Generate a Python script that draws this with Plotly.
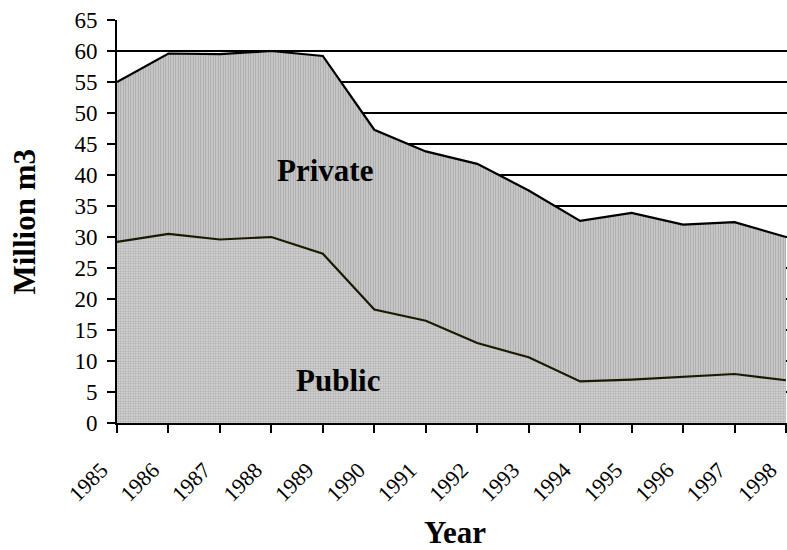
import plotly.graph_objects as go

# Annual volumes, million m3
years = list(range(1985, 1999))
public = [29.2, 30.5, 29.6, 30.0, 27.3, 18.3, 16.5, 12.9, 10.6, 6.7, 7.0, 7.4, 7.9, 6.9]
private = [25.8, 29.1, 29.9, 30.0, 31.9, 29.0, 27.3, 28.9, 26.9, 25.9, 26.9, 24.6, 24.5, 23.1]
y_ticks = list(range(0, 70, 5))

FONT = "Liberation Serif"
PAD = "\u00a0" * 4  # pushes the slanted year labels away from the tick marks

fig = go.Figure()

fig.add_trace(go.Scatter(
    x=years, y=public, name="Public", stackgroup="vol",
    mode="lines", line=dict(color="#1a1a00", width=2.2),
    fillcolor="#c4c4c4",
    fillpattern=dict(shape=".", size=2.5, solidity=0.4,
                     fgcolor="#a4a4a4", bgcolor="#d4d4d4", fillmode="replace"),
))
fig.add_trace(go.Scatter(
    x=years, y=private, name="Private", stackgroup="vol",
    mode="lines", line=dict(color="black", width=2.2),
    fillcolor="#bdbdbd",
    fillpattern=dict(shape="|", size=2.5, solidity=0.45,
                     fgcolor="#a6a6a6", bgcolor="#d0d0d0", fillmode="replace"),
))

fig.add_annotation(x=1989.05, y=40.7, text="<b>Private</b>", showarrow=False,
                   font=dict(family=FONT, size=31, color="black"))
fig.add_annotation(x=1989.3, y=6.9, text="<b>Public</b>", showarrow=False,
                   font=dict(family=FONT, size=31, color="black"))

# axis titles
fig.add_annotation(xref="paper", yref="paper", x=-0.1388, y=0.5,
                   xanchor="center", yanchor="middle", textangle=-90,
                   text="<b>Million m3</b>", showarrow=False,
                   font=dict(family=FONT, size=31, color="black"))
fig.add_annotation(xref="paper", yref="paper", x=0.505, y=-0.271,
                   xanchor="center", yanchor="middle",
                   text="<b>Year</b>", showarrow=False,
                   font=dict(family=FONT, size=31, color="black"))

fig.update_layout(
    width=787, height=550,
    margin=dict(l=117, r=0, t=20, b=127),
    paper_bgcolor="white", plot_bgcolor="white",
    showlegend=False,
    font=dict(family=FONT, color="black"),
)
fig.update_xaxes(
    range=[1985, 1998.02], tickvals=years, ticktext=[str(y) + PAD for y in years],
    tickangle=-45, tickfont=dict(size=22),
    ticklabeloverflow="allow", automargin=False,
    showline=True, linecolor="black", linewidth=2,
    ticks="outside", ticklen=8, tickwidth=2, tickcolor="black",
    showgrid=False, zeroline=False,
)
fig.update_yaxes(
    range=[0, 65], tickvals=y_ticks, tickfont=dict(size=23), ticklabelstandoff=5,
    automargin=False,
    showline=True, linecolor="black", linewidth=2,
    ticks="outside", ticklen=8, tickwidth=2, tickcolor="black",
    showgrid=True, gridcolor="black", gridwidth=2, zeroline=False,
)

fig.write_html("out.html")
